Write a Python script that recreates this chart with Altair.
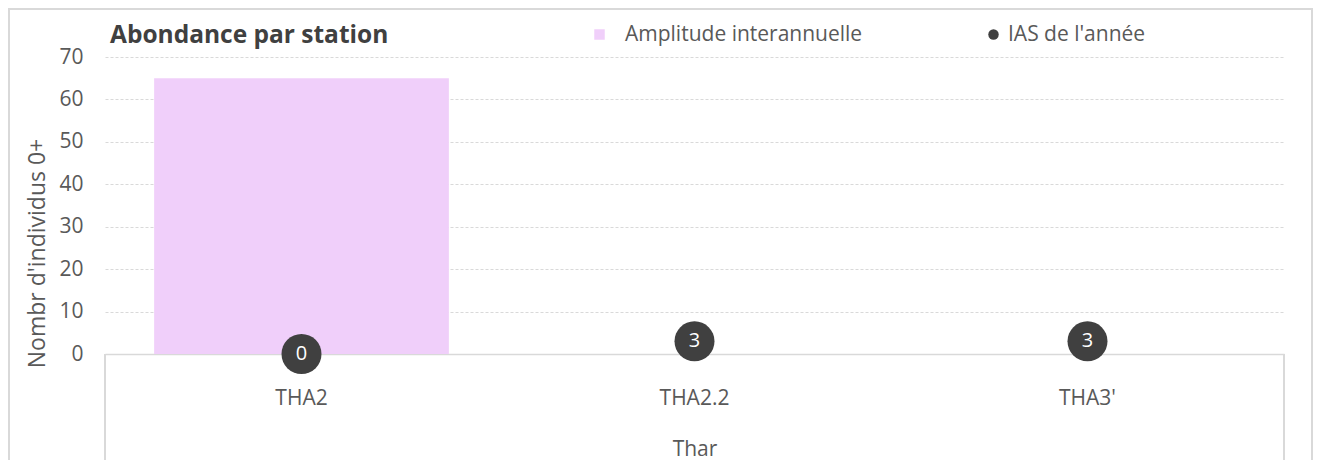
import altair as alt
import pandas as pd

stations = ["THA2", "THA2.2", "THA3'"]
amplitude_min = [0, 0, 0]
amplitude_max = [65, 0, 0]
ias = [0, 3, 3]
y_ticks = [0, 10, 20, 30, 40, 50, 60, 70]

FONT = "Open Sans"
GREY = "#595959"
LINE = "#d9d9d9"

df = pd.DataFrame({
    "station": stations,
    "lo": amplitude_min,
    "hi": amplitude_max,
    "ias": ias,
    "s_bar": ["Amplitude interannuelle"] * 3,
    "s_pt": ["IAS de l'année"] * 3,
})

W, H = 1179, 297

xenc = alt.X(
    "station:N", sort=stations, title="Thar",
    scale=alt.Scale(paddingInner=0.25, paddingOuter=0.125),
    axis=alt.Axis(labelAngle=0, labelFontSize=21, labelColor=GREY, labelFont=FONT,
                  labelPadding=33, ticks=False, tickSize=0,
                  domainColor=LINE, domainWidth=1.5,
                  titleFontSize=21, titleColor=GREY, titleFont=FONT,
                  titleFontWeight="normal", titlePadding=30),
)
yscale = alt.Scale(domain=[0, 70], nice=False)

border = alt.Chart(df).mark_rect(fill="transparent", stroke=LINE, strokeWidth=2).encode(
    x=alt.value(-96), x2=alt.value(1207), y=alt.value(-48), y2=alt.value(440)
)

bars = alt.Chart(df).mark_bar(opacity=1).encode(
    x=xenc,
    y=alt.Y("lo:Q", scale=yscale, title="Nombr d'individus 0+",
            axis=alt.Axis(values=y_ticks, labelFontSize=21, labelColor=GREY, labelFont=FONT,
                          labelPadding=22, ticks=False, domain=False,
                          grid=True, gridColor=LINE, gridDash=[3, 2], gridWidth=1,
                          titleFontSize=23, titleColor=GREY, titleFont=FONT,
                          titleFontWeight="normal", titleX=-68, titleY=196,
                          titleAlign="center", titleBaseline="middle")),
    y2="hi:Q",
    color=alt.Color("s_bar:N", scale=alt.Scale(range=["#f0cffa"]),
                    legend=alt.Legend(title=None, orient="none", legendX=484, legendY=-33,
                                      symbolType="square", symbolSize=110, symbolStrokeWidth=0,
                                      labelFontSize=21, labelColor=GREY, labelFont=FONT,
                                      labelOffset=15, labelLimit=400, padding=0)),
)

points = alt.Chart(df).mark_point(filled=True, size=1600, opacity=1, shape="circle").encode(
    x=xenc,
    y=alt.Y("ias:Q", scale=yscale),
    fill=alt.Fill("s_pt:N", scale=alt.Scale(range=["#404040"]),
                  legend=alt.Legend(title=None, orient="none", legendX=878, legendY=-33,
                                    symbolType="circle", symbolSize=110, symbolStrokeWidth=0,
                                    labelFontSize=21, labelColor=GREY, labelFont=FONT,
                                    labelOffset=4, labelLimit=400, padding=0)),
)

labels = alt.Chart(df).mark_text(color="white", fontSize=20, font=FONT, baseline="middle").encode(
    x=xenc,
    y=alt.Y("ias:Q", scale=yscale),
    text=alt.Text("ias:Q"),
)

div_left = alt.Chart(df).mark_rule(color=LINE, strokeWidth=1.5).encode(
    x=alt.value(0), y=alt.value(H), y2=alt.value(H + 140),
)
div_right = alt.Chart(df).mark_rule(color=LINE, strokeWidth=1.5).encode(
    x=alt.value(W), y=alt.value(H), y2=alt.value(H + 140),
)

chart = alt.layer(border, bars, div_left, div_right, points, labels).resolve_scale(
    fill="independent", color="independent"
).properties(
    width=W, height=H,
    padding={"left": 97, "top": 49, "right": 29, "bottom": 106},
    autosize=alt.AutoSizeParams(type="none"),
    title=alt.TitleParams("Abondance par station", anchor="start", frame="group",
                          fontSize=24.5, font=FONT, fontWeight="bold", color="#404040",
                          dx=5, dy=71, offset=12, baseline="alphabetic"),
).configure(background="white").configure_view(strokeWidth=0)

chart.save("out.html", embed_options={"renderer": "svg", "actions": False})
